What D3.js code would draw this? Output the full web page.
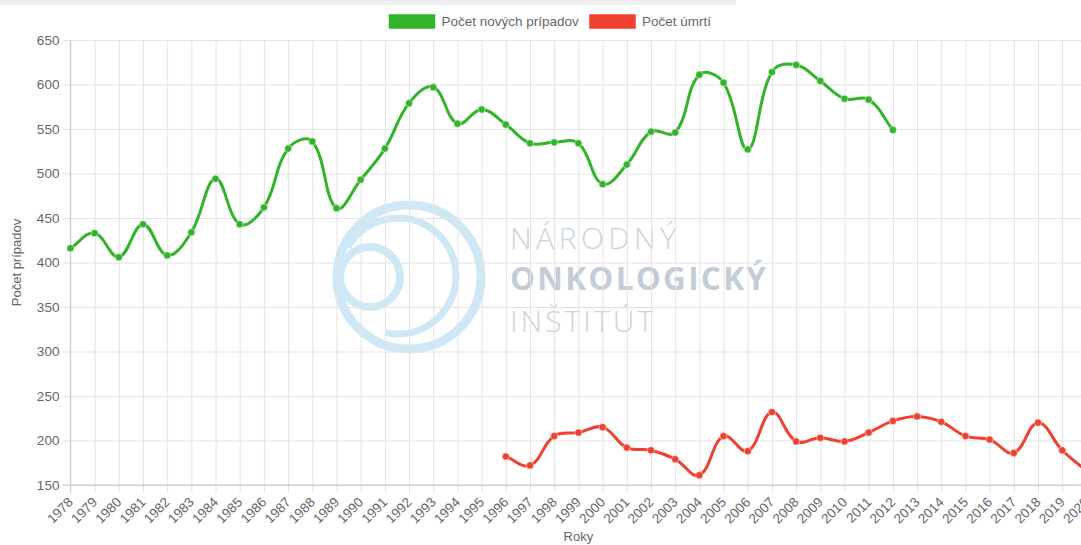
<!DOCTYPE html>
<html>
<head>
<meta charset="utf-8">
<script src="https://cdn.jsdelivr.net/npm/d3@7"></script>
<style>
  body { margin: 0; background: #fff; }
  svg { display: block; font-family: "Liberation Sans", Arial, sans-serif; }
</style>
</head>
<body>
<script>
'use strict';

var years = [1978, 1979, 1980, 1981, 1982, 1983, 1984, 1985, 1986, 1987, 1988, 1989,
             1990, 1991, 1992, 1993, 1994, 1995, 1996, 1997, 1998, 1999, 2000, 2001,
             2002, 2003, 2004, 2005, 2006, 2007, 2008, 2009, 2010, 2011, 2012, 2013,
             2014, 2015, 2016, 2017, 2018, 2019, 2020];

// Počet nových prípadov (1978 - 2012)
var newCases = [416, 433, 406, 443, 408, 434, 494, 443, 462, 528, 536, 461,
                493, 528, 579, 597, 556, 572, 555, 534, 535, 534, 488, 510,
                547, 546, 611, 602, 527, 614, 622, 604, 584, 583, 549, null,
                null, null, null, null, null, null, null];

// Počet úmrtí (1996 - 2020)
var deaths = [null, null, null, null, null, null, null, null, null, null, null, null,
              null, null, null, null, null, null, 182, 172, 205, 209, 215, 192,
              189, 179, 161, 205, 188, 232, 199, 203, 199, 209, 222, 227,
              221, 205, 201, 186, 220, 189, 166];

var yTicks = [150, 200, 250, 300, 350, 400, 450, 500, 550, 600, 650];

var seriesNames = ["Počet nových prípadov", "Počet úmrtí"];
var seriesColors = ["#31b42a", "#ee412f"];

window.onload = function(){

   var W = 1081, H = 545;
   var left = 70.4, right = 1086.4, top = 40, bottom = 485;

   var svg = d3.select("body").append("svg")
      .attr("width", W)
      .attr("height", H);

   // page strip on top
   svg.append("rect")
      .attr("x", 0).attr("y", 0)
      .attr("width", 736).attr("height", 5)
      .attr("fill", "#efefef");

   var x = d3.scaleLinear().domain([1978, 2020]).range([left, right]);
   var y = d3.scaleLinear().domain([150, 650]).range([bottom, top]);

   // watermark
   var wm = svg.append("g");
   var blue = "#cfe8f5";
   wm.append("circle").attr("cx", 409).attr("cy", 277).attr("r", 72)
      .attr("fill", "none").attr("stroke", blue).attr("stroke-width", 9);
   wm.append("circle").attr("cx", 370).attr("cy", 277).attr("r", 30)
      .attr("fill", "none").attr("stroke", blue).attr("stroke-width", 8);
   var arc = d3.arc()
      .innerRadius(54.5).outerRadius(61.5)
      .startAngle(-1.05).endAngle(3.36);
   wm.append("path")
      .attr("transform", "translate(398,276)")
      .attr("d", arc())
      .attr("fill", blue);
   var wmText = wm.append("g").attr("font-family", "'Open Sans', sans-serif");
   wmText.append("text").attr("x", 510).attr("y", 248.5)
      .attr("font-size", 30).attr("font-weight", 300)
      .attr("textLength", 166).attr("lengthAdjust", "spacing")
      .attr("fill", "#cbd4dd").text("NÁRODNÝ");
   wmText.append("text").attr("x", 510).attr("y", 290)
      .attr("font-size", 31.5).attr("font-weight", 700)
      .attr("textLength", 256).attr("lengthAdjust", "spacing")
      .attr("fill", "#c4cdd7").text("ONKOLOGICKÝ");
   wmText.append("text").attr("x", 510).attr("y", 332)
      .attr("font-size", 30).attr("font-weight", 300)
      .attr("textLength", 143).attr("lengthAdjust", "spacing")
      .attr("fill", "#cbd4dd").text("INŠTITÚT");

   // y axis with grid
   var yAxis = d3.axisLeft(y).tickValues(yTicks).tickSizeInner(-(right - left)).tickSizeOuter(0);
   var gy = svg.append("g").attr("transform", "translate(" + left + ",0)").call(yAxis);
   gy.select(".domain").remove();
   gy.selectAll(".tick line")
      .attr("x1", -8)
      .attr("stroke", "#e3e3e3");
   gy.selectAll(".tick text")
      .attr("x", -11)
      .attr("fill", "#666")
      .attr("font-size", 13.5)
      .attr("font-family", "'Liberation Sans', Arial, sans-serif");

   // x axis with grid
   var xAxis = d3.axisBottom(x).tickValues(years).tickFormat(d3.format("d"))
      .tickSizeInner(-(bottom - top)).tickSizeOuter(0);
   var gx = svg.append("g").attr("transform", "translate(0," + bottom + ")").call(xAxis);
   gx.select(".domain").remove();
   gx.selectAll(".tick line")
      .attr("y1", 8)
      .attr("stroke", "#e3e3e3");
   gx.selectAll(".tick text")
      .attr("y", 0).attr("dy", 0)
      .attr("text-anchor", "end")
      .attr("transform", "translate(3,18) rotate(-45)")
      .attr("fill", "#666")
      .attr("font-size", 13.5)
      .attr("font-family", "'Liberation Sans', Arial, sans-serif");

   // axis lines
   svg.append("line").attr("x1", left).attr("x2", left).attr("y1", top).attr("y2", bottom + 8)
      .attr("stroke", "#c8c8c8");
   svg.append("line").attr("x1", left - 8).attr("x2", right).attr("y1", bottom).attr("y2", bottom)
      .attr("stroke", "#c8c8c8");

   // axis titles
   svg.append("text")
      .attr("transform", "translate(21," + ((top + bottom) / 2) + ") rotate(-90)")
      .attr("text-anchor", "middle")
      .attr("fill", "#666").attr("font-size", 13)
      .text("Počet prípadov");
   svg.append("text")
      .attr("x", (left + right) / 2).attr("y", 541)
      .attr("text-anchor", "middle")
      .attr("fill", "#666").attr("font-size", 13)
      .text("Roky");

   // chart.js style bezier through points
   function splinePath(pts, t){
      var p = d3.path();
      var cps = pts.map(function(pt, i){
         var prev = pts[i - 1] || pt, next = pts[i + 1] || pt;
         var d01 = Math.hypot(pt[0] - prev[0], pt[1] - prev[1]);
         var d12 = Math.hypot(next[0] - pt[0], next[1] - pt[1]);
         var s01 = d01 / (d01 + d12 || 1), s12 = d12 / (d01 + d12 || 1);
         var fa = t * s01, fb = t * s12;
         return {
            px: pt[0] - fa * (next[0] - prev[0]), py: pt[1] - fa * (next[1] - prev[1]),
            nx: pt[0] + fb * (next[0] - prev[0]), ny: pt[1] + fb * (next[1] - prev[1])
         };
      });
      pts.forEach(function(pt, i){
         if (i === 0) { p.moveTo(pt[0], pt[1]); return; }
         p.bezierCurveTo(cps[i - 1].nx, cps[i - 1].ny, cps[i].px, cps[i].py, pt[0], pt[1]);
      });
      return p.toString();
   }

   var plot = svg.append("g");
   [newCases, deaths].forEach(function(vals, k){
      var pts = [];
      vals.forEach(function(v, i){ if (v !== null) pts.push([x(years[i]), y(v)]); });
      plot.append("path")
         .attr("d", splinePath(pts, 0.4))
         .attr("fill", "none")
         .attr("stroke", seriesColors[k])
         .attr("stroke-width", 3);
      plot.selectAll(".pt" + k)
         .data(pts)
         .enter()
         .append("circle")
         .attr("cx", function(d){ return d[0]; })
         .attr("cy", function(d){ return d[1]; })
         .attr("r", 3.6)
         .attr("fill", seriesColors[k])
         .attr("stroke", "#fff")
         .attr("stroke-opacity", 0.6)
         .attr("stroke-width", 0.8);
   });

   // legend
   var legendX = [388.5, 589];
   var lg = svg.append("g");
   seriesNames.forEach(function(name, k){
      lg.append("rect")
         .attr("x", legendX[k]).attr("y", 14)
         .attr("width", 47).attr("height", 15)
         .attr("fill", seriesColors[k])
         .attr("stroke", "#fff").attr("stroke-opacity", 0.5);
      lg.append("text")
         .attr("x", legendX[k] + 53).attr("y", 26)
         .attr("fill", "#666").attr("font-size", 13.5)
         .text(name);
   });
};
</script>
</body>
</html>
